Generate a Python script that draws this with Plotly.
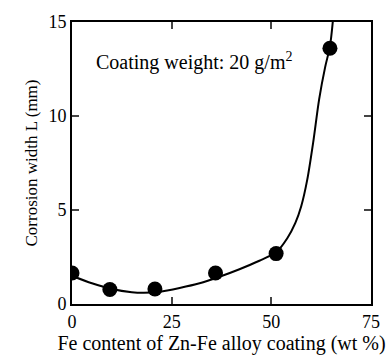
import plotly.graph_objects as go

fe_content = [0, 9.5, 20.8, 36, 51.2, 64.7]
corrosion_width = [1.65, 0.77, 0.8, 1.65, 2.68, 13.6]

curve_x = [0, 5, 10, 15, 18, 22, 27, 32, 37, 42, 47, 51.2, 54, 56, 57.5, 59, 60.5, 62, 63.5, 64.7, 65.5]
curve_y = [1.5, 1.1, 0.8, 0.63, 0.6, 0.65, 0.85, 1.1, 1.45, 1.85, 2.3, 2.75, 3.5, 4.3, 5.2, 6.6, 8.6, 10.9, 12.6, 13.7, 15.2]

x_ticks = [0, 25, 50, 75]
y_ticks = [0, 5, 10, 15]

fam = "Liberation Serif"
tick_font = dict(family=fam, size=18, color="black")

fig = go.Figure()
fig.add_trace(go.Scatter(x=curve_x, y=curve_y, mode="lines",
                         line=dict(color="black", width=2, shape="spline", smoothing=0.8),
                         showlegend=False, hoverinfo="skip"))
fig.add_trace(go.Scatter(x=fe_content, y=corrosion_width, mode="markers",
                         marker=dict(color="black", size=15), showlegend=False))

fig.update_layout(
    width=392, height=360,
    margin=dict(l=72, r=19, t=17, b=52),
    plot_bgcolor="white", paper_bgcolor="white",
    font=tick_font,
    annotations=[dict(x=0.073, y=0.86, xref="paper", yref="paper", xanchor="left", yanchor="middle",
                      text="Coating weight: 20 g/m<sup>2</sup>", showarrow=False,
                      font=dict(family=fam, size=20, color="black"))],
)
fig.update_xaxes(range=[0, 75], tickvals=x_ticks, ticks="inside", ticklen=7, tickwidth=1.5,
                 showline=True, linecolor="black", linewidth=2, mirror="ticks", showgrid=False,
                 zeroline=False,
                 title=dict(text="Fe content of Zn-Fe alloy coating (wt %)", standoff=2,
                            font=dict(family=fam, size=20, color="black")),
                 tickfont=tick_font)
fig.update_yaxes(range=[0, 15], tickvals=y_ticks, ticks="inside", ticklen=7, tickwidth=1.5,
                 showline=True, linecolor="black", linewidth=2, mirror="ticks", showgrid=False,
                 zeroline=False,
                 title=dict(text="Corrosion width L (mm)", standoff=6,
                            font=dict(family=fam, size=17, color="black")),
                 tickfont=tick_font)

fig.write_html("out.html")
